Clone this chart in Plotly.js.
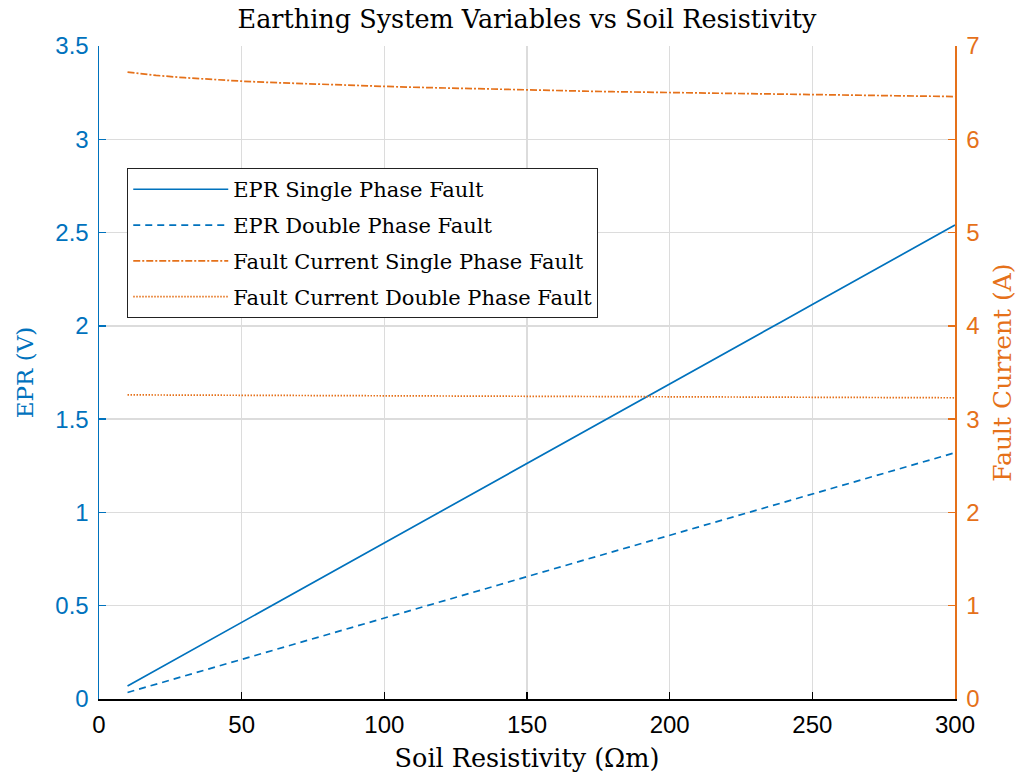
<!DOCTYPE html>
<html>
<head>
<meta charset="utf-8">
<script src="https://cdn.plot.ly/plotly-3.0.1.min.js"></script>
<style>html,body{margin:0;padding:0;background:#fff;}#chart{width:1024px;height:776px;}</style>
</head>
<body>
<div id="chart"></div>
<script>
const resistivity = [10,20,30,40,50,60,70,80,90,100,110,120,130,140,150,160,170,180,190,200,210,220,230,240,250,260,270,280,290,300];
const eprSingle = [0.07,0.155,0.240,0.325,0.411,0.496,0.581,0.666,0.751,0.837,0.922,1.007,1.092,1.177,1.263,1.348,1.433,1.518,1.603,1.689,1.774,1.859,1.944,2.029,2.115,2.200,2.285,2.370,2.455,2.540];
const eprDouble = [0.035,0.079,0.124,0.168,0.212,0.257,0.301,0.345,0.390,0.434,0.478,0.523,0.567,0.611,0.656,0.700,0.744,0.789,0.833,0.877,0.922,0.966,1.010,1.055,1.099,1.143,1.188,1.232,1.276,1.320];
const faultSingle = [6.72,6.685,6.66,6.64,6.623,6.609,6.597,6.586,6.576,6.567,6.558,6.55,6.543,6.536,6.529,6.522,6.516,6.51,6.505,6.5,6.495,6.49,6.486,6.482,6.478,6.474,6.47,6.466,6.462,6.458];
const faultDouble = [3.26,3.259,3.257,3.256,3.255,3.253,3.252,3.251,3.25,3.249,3.248,3.247,3.246,3.245,3.244,3.243,3.242,3.241,3.24,3.239,3.238,3.237,3.236,3.235,3.234,3.233,3.232,3.231,3.23,3.229];
const seriesNames = ['EPR Single Phase Fault','EPR Double Phase Fault','Fault Current Single Phase Fault','Fault Current Double Phase Fault'];
const xTicks = [0,50,100,150,200,250,300];
const yLeftTicks = [0,0.5,1,1.5,2,2.5,3,3.5];
const yRightTicks = [0,1,2,3,4,5,6,7];

const blue = '#0072BD', orange = '#E5711A';
const serif = 'DejaVu Serif, Liberation Serif, serif';
const sans = 'Liberation Sans, Arial, sans-serif';

const traces = [
  {x: resistivity, y: eprSingle, name: seriesNames[0], legendgroup: 'a', mode: 'lines', line: {color: blue, width: 1.7, dash: 'solid'}, yaxis: 'y'},
  {x: resistivity, y: eprDouble, name: seriesNames[1], legendgroup: 'b', mode: 'lines', line: {color: blue, width: 1.7, dash: '7px,5px'}, yaxis: 'y'},
  {x: resistivity, y: faultSingle, name: seriesNames[2], legendgroup: 'c', mode: 'lines', line: {color: orange, width: 1.7, dash: '7px,2px,2px,2px'}, yaxis: 'y2'},
  {x: resistivity, y: faultDouble, name: seriesNames[3], legendgroup: 'd', mode: 'lines', line: {color: orange, width: 1.7, dash: '1.5px,1.5px'}, yaxis: 'y2'}
];

const layout = {
  width: 1024, height: 776,
  margin: {l: 99, r: 69, t: 46, b: 77},
  paper_bgcolor: '#fff', plot_bgcolor: '#fff',
  showlegend: true,
  title: {text: 'Earthing System Variables vs Soil Resistivity', font: {family: serif, size: 25.5, color: '#000'}, xref: 'paper', x: 0.5, xanchor: 'center', yref: 'container', y: 0.976, yanchor: 'middle'},
  xaxis: {
    range: [0, 300], tickvals: xTicks, ticks: 'inside', ticklen: 7, tickcolor: '#000', tickwidth: 1.5,
    showline: true, linecolor: '#000', linewidth: 1.5, zeroline: false,
    showgrid: true, gridcolor: '#dcdcdc', gridwidth: 1.5,
    tickfont: {family: sans, size: 24, color: '#000'}, ticklabelstandoff: 4,
    title: {text: 'Soil Resistivity (Ωm)', font: {family: serif, size: 25.5, color: '#000'}, standoff: 12}
  },
  yaxis: {
    range: [0, 3.5], tickvals: yLeftTicks, ticktext: yLeftTicks.map(String),
    ticks: 'inside', ticklen: 7, tickcolor: blue, tickwidth: 1.5,
    showline: true, linecolor: blue, linewidth: 1.5, zeroline: false,
    showgrid: true, gridcolor: '#dcdcdc', gridwidth: 1.5,
    tickfont: {family: sans, size: 24, color: blue}, ticklabelstandoff: 4,
    title: {text: 'EPR (V)', font: {family: serif, size: 23, color: blue}, standoff: 15}
  },
  yaxis2: {
    range: [0, 7], tickvals: yRightTicks, overlaying: 'y', side: 'right',
    ticks: 'inside', ticklen: 7, tickcolor: orange, tickwidth: 1.5,
    showline: true, linecolor: orange, linewidth: 1.5, zeroline: false, showgrid: false,
    tickfont: {family: sans, size: 24, color: orange}, ticklabelstandoff: 5,
    title: {text: 'Fault Current (A)', font: {family: serif, size: 25, color: orange}, standoff: 15}
  },
  legend: {
    x: 0.033, y: 0.813, xanchor: 'left', yanchor: 'top',
    bgcolor: '#fff', bordercolor: '#222', borderwidth: 1,
    font: {family: serif, size: 21, color: '#000'},
    traceorder: 'grouped', tracegroupgap: 5.5, itemwidth: 95
  }
};

Plotly.newPlot('chart', traces, layout, {displayModeBar: false, staticPlot: true});
</script>
</body>
</html>
